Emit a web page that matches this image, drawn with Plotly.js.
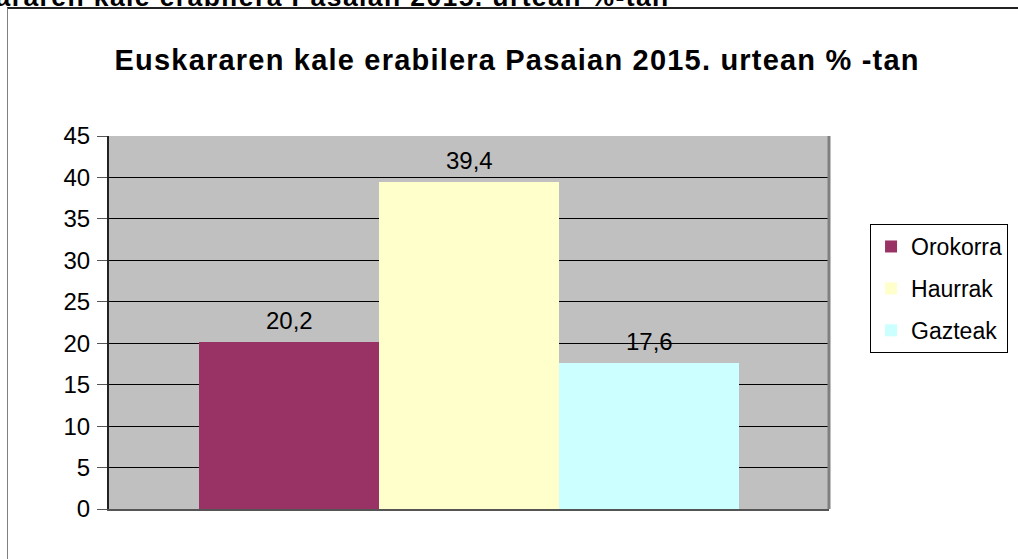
<!DOCTYPE html>
<html>
<head>
<meta charset="utf-8">
<script src="https://cdn.plot.ly/plotly-3.0.1.min.js"></script>
<style>
  html, body { margin: 0; padding: 0; background: #ffffff; }
  #frame { position: absolute; left: 7px; top: 7px; width: 1100px; height: 600px;
           border-left: 1px solid #808080; border-top: 2px solid #222222; }
  #chart { position: absolute; left: 0; top: 0; width: 1018px; height: 559px; }
  .gtitle { letter-spacing: 1.2px; }
  .annotation[data-index="3"] text { letter-spacing: 1.4px; }
</style>
</head>
<body>
<div id="frame"></div>
<div id="chart"></div>
<script>
const categories = ["Orokorra", "Haurrak", "Gazteak"];
const values = [20.2, 39.4, 17.6];
const colors = ["#993366", "#ffffcc", "#ccffff"];
const yTicks = [0, 5, 10, 15, 20, 25, 30, 35, 40, 45];
const titleText = "Euskararen kale erabilera Pasaian 2015. urtean % -tan";
const clippedText = "Euskararen kale erabilera Pasaian 2015. urtean %-tan";

const fmt = v => String(v).replace(".", ",");
const FONT = "Liberation Sans, Arial, sans-serif";

const traces = categories.map((c, i) => ({
  type: "bar",
  name: c,
  x: [c],
  y: [values[i]],
  marker: { color: colors[i], line: { width: 0 } },
  legendgroup: "g" + i,
  hoverinfo: "name+y"
}));

const annotations = categories.map((c, i) => ({
  x: c, y: values[i], xref: "x", yref: "y",
  text: fmt(values[i]), showarrow: false,
  yanchor: "bottom", yshift: 6,
  font: { family: FONT, size: 24, color: "#000000" }
}));

annotations.push({
  xref: "paper", yref: "paper", x: 0.262, y: 1.326,
  xanchor: "center", yanchor: "bottom",
  text: "<b>" + clippedText + "</b>", showarrow: false,
  font: { family: FONT, size: 26.5, color: "#000000" }
});

const layout = {
  width: 1018, height: 559,
  margin: { l: 109, r: 189, t: 136, b: 50, autoexpand: false },
  paper_bgcolor: "rgba(0,0,0,0)",
  plot_bgcolor: "#c0c0c0",
  barmode: "overlay",
  bargap: 0,
  title: {
    text: "<b>" + titleText + "</b>",
    x: 0.508, xanchor: "center",
    y: 0.893, yanchor: "middle",
    font: { family: FONT, size: 29, color: "#000000" }
  },
  xaxis: {
    type: "category",
    categoryarray: categories,
    range: [-1, 3],
    showticklabels: false,
    ticks: "",
    showgrid: false,
    zeroline: false,
    showline: true, linecolor: "#555555", linewidth: 2,
    fixedrange: true
  },
  yaxis: {
    range: [0, 45],
    tickvals: yTicks,
    ticktext: yTicks.map(String),
    ticks: "outside", ticklen: 10, tickcolor: "#555555", tickwidth: 1,
    tickfont: { family: FONT, size: 24, color: "#000000" },
    ticklabelstandoff: 2,
    showgrid: true, gridcolor: "#000000", gridwidth: 1,
    zeroline: false,
    showline: true, linecolor: "#222222", linewidth: 2,
    fixedrange: true
  },
  legend: {
    x: 1.057, y: 0.764, xanchor: "left", yanchor: "top",
    bgcolor: "#ffffff", bordercolor: "#000000", borderwidth: 1,
    font: { family: FONT, size: 23, color: "#000000" },
    traceorder: "grouped", tracegroupgap: 9,
    itemwidth: 30
  },
  shapes: [
    { type: "line", xref: "paper", yref: "paper", x0: 1, x1: 1, y0: 0, y1: 1,
      line: { color: "#808080", width: 3 } }
  ],
  annotations: annotations,
  showlegend: true
};

Plotly.newPlot("chart", traces, layout, { displayModeBar: false, staticPlot: true });
</script>
</body>
</html>
